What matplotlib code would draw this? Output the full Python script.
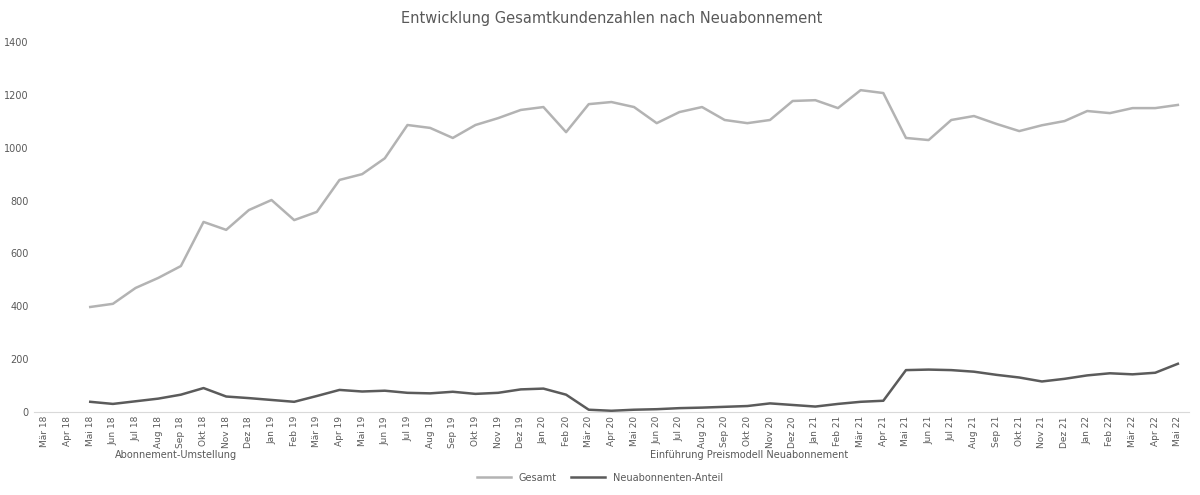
import numpy as np
import matplotlib
matplotlib.use("Agg")
import matplotlib.pyplot as plt

# Kategorien (Monate)
monate = ["Jan", "Feb", "Mär", "Apr", "Mai", "Jun",
          "Jul", "Aug", "Sep", "Okt", "Nov", "Dez"]
kategorien = [f"{monate[(k + 2) % 12]} {18 + (k + 2) // 12}" for k in range(51)]

# Werte (erste zwei Monate ohne Daten)
gesamt = [None, None,
          397, 409, 469, 507, 552, 719, 689, 764, 802, 726,
          757, 878, 900, 960, 1086, 1075, 1037, 1086, 1112, 1143,
          1154, 1059, 1165, 1173, 1154, 1093, 1135, 1154, 1105, 1093,
          1105, 1177, 1180, 1150, 1218, 1207, 1037, 1029, 1105, 1120,
          1090, 1063, 1085, 1101, 1139, 1131, 1150, 1150, 1162]
anteil = [None, None,
          38, 30, 40, 50, 65, 90, 58, 52, 45, 38,
          60, 83, 77, 80, 72, 70, 76, 68, 72, 85,
          88, 65, 8, 4, 8, 10, 14, 16, 19, 22,
          32, 26, 20, 30, 38, 42, 158, 160, 158, 152,
          140, 130, 115, 125, 138, 146, 142, 148, 182]

serien = ["Gesamt", "Neuabonnenten-Anteil"]
gruppen = ["Abonnement-Umstellung", "Einführung Preismodell Neuabonnement"]
titel = "Entwicklung Gesamtkundenzahlen nach Neuabonnement"

x = np.arange(len(kategorien))
g = np.array([np.nan if v is None else v for v in gesamt], dtype=float)
a = np.array([np.nan if v is None else v for v in anteil], dtype=float)

fig = plt.figure(figsize=(12, 4.95), dpi=100)
ax = fig.add_axes([0.028, 0.168, 0.963, 0.747])

txt = "#595959"
ax.plot(x, g, color="#b3b3b3", lw=1.8, label=serien[0])
ax.plot(x, a, color="#5b5b5b", lw=1.8, label=serien[1])

ax.set_xlim(-0.5, len(kategorien) - 0.5)
ax.set_ylim(0, 1400)
ax.set_yticks(range(0, 1401, 200))
ax.set_xticks(x)
ax.set_xticklabels(kategorien, rotation=90, fontsize=6.5, color=txt)
ax.tick_params(axis="y", labelsize=7, colors=txt, length=0)
ax.tick_params(axis="x", length=0, pad=3)

for s in ["top", "right", "left"]:
    ax.spines[s].set_visible(False)
ax.spines["bottom"].set_color("#d9d9d9")

ax.set_title(titel, fontsize=10.5, color=txt, pad=14)

# Gruppenbeschriftungen unter der Achse
fig.text(0.096, 0.075, gruppen[0], fontsize=7, color=txt, ha="left")
fig.text(0.542, 0.075, gruppen[1], fontsize=7, color=txt, ha="left")

fig.legend(loc="center", bbox_to_anchor=(0.5, 0.035), ncol=2, frameon=False,
           fontsize=7, labelcolor=txt, handlelength=3.5, columnspacing=1.5)

fig.savefig("out.png", dpi=100, facecolor="white")
